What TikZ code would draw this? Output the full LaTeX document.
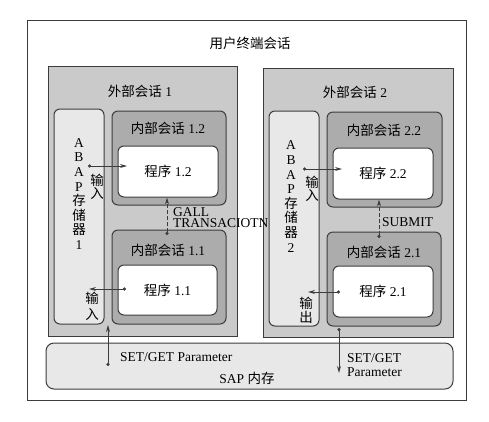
\documentclass[tikz,border=0pt]{standalone}
\usepackage{fontspec}
\setmainfont{Liberation Serif}
\newfontfamily\cjk{Noto Sans CJK SC}
\usetikzlibrary{arrows.meta,calc}
\definecolor{outerfill}{RGB}{202,202,202}
\definecolor{innerfill}{RGB}{172,172,172}
\definecolor{lightfill}{RGB}{232,232,232}
\definecolor{edge}{RGB}{60,60,60}
\newcommand{\zh}[1]{{\cjk #1}}
\tikzset{
  box/.style={draw=edge, line width=1pt, inner sep=0pt, minimum width=#1},
  outerbox/.style={draw=edge, line width=1pt, fill=outerfill, inner sep=0pt},
  innerbox/.style={draw=edge, line width=1pt, fill=innerfill, rounded corners=6pt, inner sep=0pt},
  progbox/.style={draw=edge, line width=1pt, fill=white, rounded corners=6pt, inner sep=0pt},
  storebox/.style={draw=edge, line width=1pt, fill=lightfill, rounded corners=6pt, inner sep=0pt},
  lbl/.style={font=\fontsize{13.5}{14}\selectfont, inner sep=0pt},
  vtext/.style={font=\fontsize{13.5}{14.6}\selectfont, align=center, inner sep=0pt},
  conn/.style={line width=0.9pt, draw=edge, {Circle[length=3.2pt]}-{Stealth[length=7pt,width=4pt]}},
  dconn/.style={conn, dash pattern=on 4pt off 2pt}
}
\begin{document}
\begin{tikzpicture}[x=1pt,y=-1pt]
\useasboundingbox (0,0) rectangle (489,421);
% frame
\node[draw=edge, line width=1pt, minimum width=439pt, minimum height=380pt, inner sep=0pt] (frame) at (246.5,210) {};
\node[lbl] (title) at (250,43) {\zh{用户终端会话}};
% outer sessions
\node[outerbox, minimum width=189pt, minimum height=270pt] (out1) at (142.5,201) {};
\node[outerbox, minimum width=190pt, minimum height=269pt] (out2) at (358,202.5) {};
\node[lbl] (out1l) at (140,91) {\zh{外部会话} 1};
\node[lbl] (out2l) at (355,92) {\zh{外部会话} 2};
% ABAP storage
\node[storebox, minimum width=50pt, minimum height=215pt] (abap1) at (79,216.5) {};
\node[storebox, minimum width=50pt, minimum height=215pt] (abap2) at (294,218.5) {};
\node[vtext] (abap1t) at (79,194) {A\\B\\A\\P\\\zh{存}\\\zh{储}\\\zh{器}\\1};
\node[vtext] (abap2t) at (291,196.5) {A\\B\\A\\P\\\zh{存}\\\zh{储}\\\zh{器}\\2};
% inner sessions
\node[innerbox, minimum width=114pt, minimum height=94pt] (in12) at (169,158) {};
\node[innerbox, minimum width=114pt, minimum height=94pt] (in11) at (169,277) {};
\node[innerbox, minimum width=115pt, minimum height=95pt] (in22) at (384.5,159.5) {};
\node[innerbox, minimum width=114pt, minimum height=94pt] (in21) at (384,279) {};
\node[lbl] (in12l) at (168,128) {\zh{内部会话} 1.2};
\node[lbl] (in11l) at (168,250) {\zh{内部会话} 1.1};
\node[lbl] (in22l) at (384,130) {\zh{内部会话} 2.2};
\node[lbl] (in21l) at (384,252) {\zh{内部会话} 2.1};
% programs
\node[progbox, minimum width=100pt, minimum height=51pt, font=\fontsize{13.5}{14}\selectfont] (p12) at (168,171.5) {\zh{程序} 1.2};
\node[progbox, minimum width=99pt, minimum height=50pt, font=\fontsize{13.5}{14}\selectfont] (p11) at (167.5,290) {\zh{程序} 1.1};
\node[progbox, minimum width=100pt, minimum height=51pt, font=\fontsize{13.5}{14}\selectfont] (p22) at (383,173.5) {\zh{程序} 2.2};
\node[progbox, minimum width=100pt, minimum height=51pt, font=\fontsize{13.5}{14}\selectfont] (p21) at (383,291.5) {\zh{程序} 2.1};
% SAP memory
\node[storebox, rounded corners=8pt, minimum width=407pt, minimum height=46pt] (sap) at (249.5,366) {};
\node[lbl] (sapl) at (247,378) {SAP \zh{内存}};
% side labels
\node[vtext, font=\fontsize{13.5}{13}\selectfont] (in1a) at (97,186.5) {\zh{输}\\\zh{入}};
\node[vtext, font=\fontsize{13.5}{16}\selectfont] (in1b) at (92,306.5) {\zh{输}\\\zh{入}};
\node[vtext, font=\fontsize{13.5}{13}\selectfont] (in2a) at (312,188.5) {\zh{输}\\\zh{入}};
\node[vtext, font=\fontsize{13.5}{14}\selectfont] (out2b) at (306,310) {\zh{输}\\\zh{出}};
\node[lbl, anchor=west, align=left, font=\fontsize{13.5}{11.5}\selectfont] (call) at (173,217.5) {GALL\\TRANSACIOTN};
\node[lbl, anchor=west] (submit) at (382,222) {SUBMIT};
\node[lbl, anchor=west] (sg1) at (120,357) {SET/GET Parameter};
\node[lbl, anchor=west, align=left, font=\fontsize{13.5}{14}\selectfont] (sg2) at (347,365) {SET/GET\\Parameter};
% connector end points
\coordinate (a1s) at (88,166);   \coordinate (a1e) at (127,166);
\coordinate (a2s) at (126,289);  \coordinate (a2e) at (89,289);
\coordinate (a3s) at (303,169);  \coordinate (a3e) at (342,169);
\coordinate (a4s) at (340,292);  \coordinate (a4e) at (308,292);
\coordinate (a5s) at (167,235);  \coordinate (a6s) at (379,238);
\coordinate (a7s) at (108,366);  \coordinate (a7e) at (108,325);
\coordinate (a8s) at (339,328);  \coordinate (a8e) at (339,373);
\draw[conn] (a1s) -- (a1e);
\draw[conn] (a2s) -- (a2e);
\draw[conn] (a3s) -- (a3e);
\draw[conn] (a4s) -- (a4e);
\draw[dconn] (a5s) -- (a5s |- p12.south);
\draw[dconn] (a6s) -- (a6s |- p22.south);
\draw[conn] (a7s) -- (a7e);
\draw[conn] (a8s) -- (a8e);
\end{tikzpicture}
\end{document}
